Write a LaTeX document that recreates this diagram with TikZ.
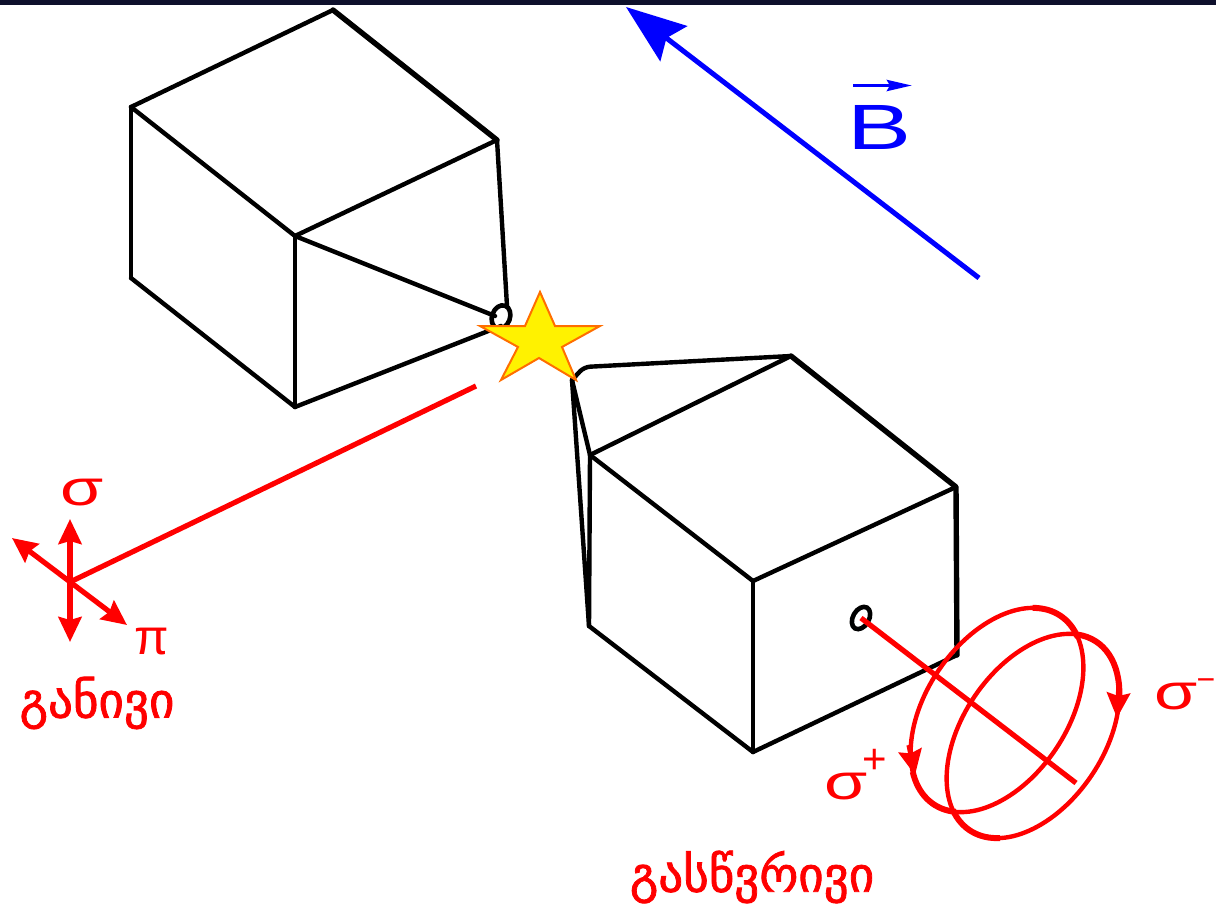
\documentclass[tikz,border=0pt]{standalone}
\usepackage{fontspec}
\setmainfont{Liberation Sans}
\newfontfamily\kafont[FakeBold=1.6]{DejaVu Sans}
\usetikzlibrary{arrows.meta}
\definecolor{BarNavy}{RGB}{14,16,44}
\definecolor{StarEdge}{RGB}{255,110,0}
\newcommand{\wider}[1]{\scalebox{1.4}[1]{#1}}
\begin{document}
\begin{tikzpicture}[x=1pt,y=-1pt,>=latex,
      edge/.style={draw=black,line width=4.4pt,line join=round,line cap=round},
      heavy/.style={edge,line width=5.4pt},
      hole/.style={draw=black,line width=4.6pt,fill=white},
      ray/.style={draw=red,line width=5.2pt},
      ring/.style={draw=red,line width=4.4pt},
      swell/.style={draw=red,line width=6pt},
      loop/.style={x radius=113.6pt,y radius=70.6pt},
      tipr/.style={-{Stealth[length=25pt,width=23pt,inset=3pt]},draw=red,line width=5.2pt},
      pol/.style={{Stealth[length=25pt,width=23pt,inset=3pt]}-{Stealth[length=25pt,width=23pt,inset=3pt]},draw=red,line width=5.2pt},
      lab/.style={text=red,inner sep=0pt,font=\fontsize{50}{50}\selectfont},
      geo/.style={text=red,inner sep=0pt,font=\kafont\fontsize{49}{52}\selectfont}]
    \useasboundingbox (0,0) rectangle (1216,905);
    \fill[BarNavy] (0,0) rectangle (1216,5);
    % upper cube
    \coordinate (ut) at (333,10);
    \coordinate (ul) at (131,107);
    \coordinate (ur) at (497,140);
    \coordinate (uc) at (295,236);
    \coordinate (ud) at (131,278);
    \coordinate (ub) at (295,407);
    \coordinate (uh) at (501,317);
    \foreach \x/\y in {ut/ul,ul/uc,ur/uc,ul/ud,uc/ub,ud/ub}
      \draw[edge] (\x) -- (\y);
    \draw[heavy] (ut) -- (ur);
    \draw[hole,rotate around={70:(uh)}] (uh) ellipse [x radius=12pt,y radius=9pt];
    \draw[edge] (ur) -- (507,306);
    \draw[edge] (uc) -- (495,316);
    \draw[edge] (ub) -- (501,326);
    % lower cube
    \coordinate (lt) at (791,356);
    \coordinate (ll) at (590,455);
    \coordinate (lr) at (956,487);
    \coordinate (lc) at (753,581);
    \coordinate (ld) at (589,626);
    \coordinate (lb) at (753,752);
    \coordinate (le) at (957,655);
    \coordinate (lp) at (572,380);
    \foreach \x/\y in {lt/ll,ll/lc,lr/lc,ll/ld,lc/lb,ld/lb,lb/le,lp/ll,lp/ld}
      \draw[edge] (\x) -- (\y);
    \draw[heavy] (lt) -- (lr) -- (le);
    \draw[edge,rounded corners=6pt] (lp) -- (584,367) -- (lt);
    \coordinate (lh) at (861,618);
    \draw[hole,rotate around={60:(lh)}] (lh) ellipse [x radius=12pt,y radius=8pt];
    % star
    \draw[draw=StarEdge,fill=yellow,line width=2pt,line join=miter]
      (540,292) -- (555,326) -- (600,326) -- (562,347) -- (576,380) -- (539,358)
      -- (501,380) -- (518,347) -- (480,326) -- (525,326) -- cycle;
    % field
    \coordinate (bs) at (979,278);
    \coordinate (be) at (626,7);
    \draw[-{Stealth[length=60pt,width=44pt,inset=9pt]},draw=blue,fill=blue,line width=5pt] (bs) -- (be);
    \node[text=blue,inner sep=0pt,font=\fontsize{64}{64}\selectfont] (bl) at (880,127) {\scalebox{1.5}[1]{B}};
    \coordinate (vs) at (853,85.5);
    \coordinate (ve) at (912,85.5);
    \draw[-{Stealth[length=25pt,width=11pt,inset=3pt]},draw=blue,line width=3.6pt] (vs) -- (ve);
    % side view
    \coordinate (so) at (70,582);
    \coordinate (sr) at (476,386);
    \draw[ray] (sr) -- (so);
    \draw[pol] (70,642) -- (70,519);
    \draw[pol] (12,538) -- (127,625);
    \node[lab] (sg) at (82,493) {\wider{σ}};
    \node[lab] (pi) at (152,642) {π};
    \node[geo] (tr) at (97,703) {განივი};
    % along view
    \begin{scope}[shift={(997,710)},rotate=56]
      \draw[ring] (0,0) ellipse [loop];
      \draw[swell] (-22:113.6pt and 70.6pt) arc[start angle=-22,end angle=23,loop];
      \draw[swell] (196:113.6pt and 70.6pt) arc[start angle=196,end angle=150,loop];
    \end{scope}
    \begin{scope}[shift={(1033,736)},rotate=56]
      \draw[ring] (0,0) ellipse [loop];
      \draw[swell] (159:113.6pt and 70.6pt) arc[start angle=159,end angle=205,loop];
      \draw[swell] (16:113.6pt and 70.6pt) arc[start angle=16,end angle=-45,loop];
    \end{scope}
    \draw[tipr] (909,745) -- (915,775);
    \draw[tipr] (1119,685) -- (1117,718);
    \draw[ray] (lh) -- (1076,783);
    \node[lab] (sm) at (1176,697) {\wider{σ}};
    \node[text=red,inner sep=0pt,font=\fontsize{32}{32}\selectfont] (mm) at (1206,685) {−};
    \node[lab] (sp) at (846,787) {\wider{σ}};
    \node[text=red,inner sep=0pt,font=\fontsize{42}{42}\selectfont] (pp) at (875,761) {+};
    \node[geo] (tl) at (752,877) {გასწვრივი};
\end{tikzpicture}
\end{document}
